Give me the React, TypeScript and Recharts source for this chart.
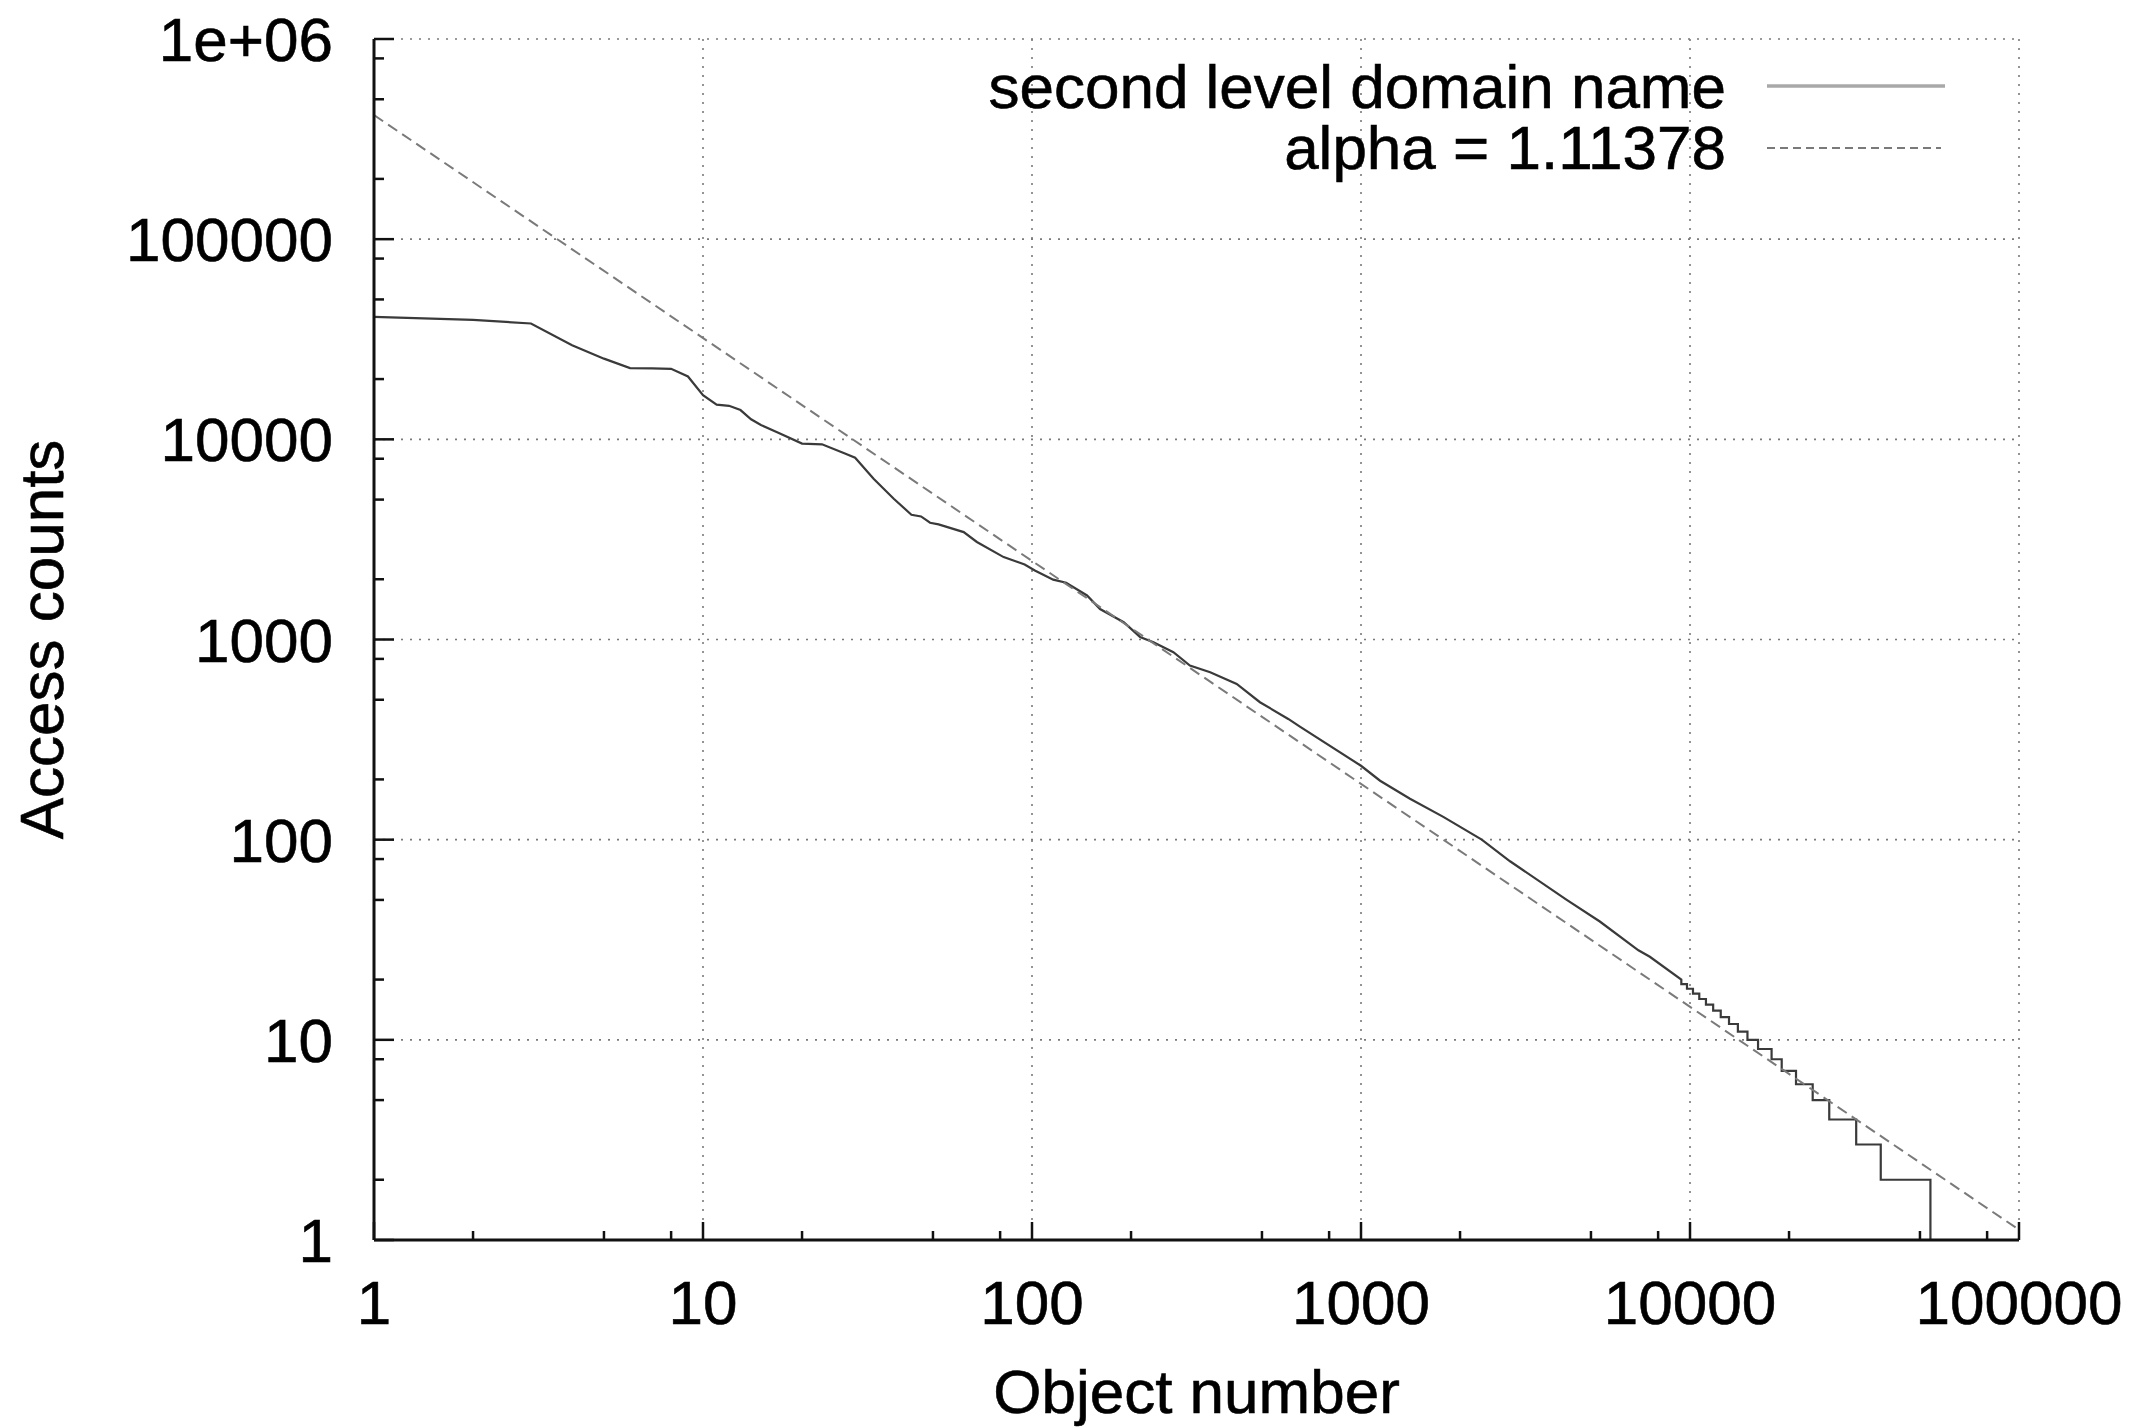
import { CartesianGrid, Line, LineChart, XAxis, YAxis } from 'recharts'

// rank / access-count pairs for the head of the distribution
const headRanks = [
  1, 2, 3, 4, 5, 6, 7, 8, 9, 10, 11, 12, 13, 14, 15, 17, 20, 23, 27, 29, 33, 38, 43, 46, 49, 52, 62, 68, 82, 95, 102,
  116, 127, 147, 161, 190, 213, 234, 269, 302, 348, 419, 493, 601, 652, 1000, 1143, 1409, 1779, 2328, 2838, 4220, 5320,
  6970, 7550,
]
const headCounts = [
  40900, 39500, 37900, 29500, 25300, 22700, 22600, 22500, 20600, 16600, 14900, 14700, 14000, 12600, 11800, 10750, 9520,
  9440, 8500, 8100, 6360, 5050, 4200, 4120, 3830, 3760, 3440, 3070, 2580, 2370, 2210, 1990, 1920, 1660, 1420, 1220, 1030,
  970, 864, 741, 686, 600, 486, 401, 367, 234, 197, 160, 130, 100, 78, 50, 39, 28, 26,
]

// tail: each count level and the last rank that still has it
const stepCounts = [20, 19, 18, 17, 16, 15, 14, 13, 12, 11, 10, 9, 8, 7, 6, 5, 4, 3, 2]
const stepLastRanks = [
  9410, 9790, 10210, 10670, 11180, 11760, 12400, 13140, 13980, 14950, 16100, 17700, 19000, 21000, 23600, 26500, 32000,
  38000, 53800,
]
const finalRank = 53801
const finalCount = 1

// fitted power law, alpha = 1.11378
const fitRanks = [1, 100000]
const fitCounts = [417000, 1.125]

const xMajorTicks = [1, 10, 100, 1000, 10000, 100000]
const xTickLabels = ['1', '10', '100', '1000', '10000', '100000']
const xMinorTicks = [2, 5, 8, 20, 50, 80, 200, 500, 800, 2000, 5000, 8000, 20000, 50000, 80000]
const yMajorTicks = [1, 10, 100, 1000, 10000, 100000, 1000000]
const yTickLabels = ['1', '10', '100', '1000', '10000', '100000', '1e+06']
const yMinorTicks = [
  2, 5, 8, 20, 50, 80, 200, 500, 800, 2000, 5000, 8000, 20000, 50000, 80000, 200000, 500000, 800000,
]

const WIDTH = 2151
const HEIGHT = 1427
const PLOT_LEFT = 374
const PLOT_TOP = 39
const PLOT_RIGHT = 2019
const PLOT_BOTTOM = 1240
const FONT = '"Liberation Sans", Arial, Helvetica, sans-serif'
const FONT_SIZE = 62

// all text gets a hairline stroke so it reads as heavy as the PostScript original
const textStyle = { fontFamily: FONT, fontSize: FONT_SIZE, fill: '#000', stroke: '#000', strokeWidth: 0.6 }

const accessData = [
  ...headRanks.map((rank, i) => ({ rank, count: headCounts[i] })),
  ...stepCounts.flatMap((count, i) => {
    const end = { rank: stepLastRanks[i], count }
    return i === 0 ? [end] : [{ rank: stepLastRanks[i - 1] + 1, count }, end]
  }),
  { rank: finalRank, count: finalCount },
]

const fitData = fitRanks.map((rank, i) => ({ rank, count: fitCounts[i] }))

function BottomTick({ x, y, payload }: any) {
  const idx = xMajorTicks.indexOf(payload.value)
  const major = idx >= 0
  return (
    <g>
      <line x1={x} y1={y} x2={x} y2={y - (major ? 18 : 9)} stroke="#111" strokeWidth={2.5} />
      {major && (
        <text x={x} y={y + 84} textAnchor="middle" style={textStyle}>
          {xTickLabels[idx]}
        </text>
      )}
    </g>
  )
}

function LeftTick({ x, y, payload }: any) {
  const idx = yMajorTicks.indexOf(payload.value)
  const major = idx >= 0
  return (
    <g>
      <line x1={x} y1={y} x2={x + (major ? 20 : 10)} y2={y} stroke="#111" strokeWidth={2.5} />
      {major && (
        <text x={x - 41} y={y + 22} textAnchor="end" style={textStyle}>
          {yTickLabels[idx]}
        </text>
      )}
    </g>
  )
}

export default function App() {
  const centerX = (PLOT_LEFT + PLOT_RIGHT) / 2
  const centerY = (PLOT_TOP + PLOT_BOTTOM) / 2

  return (
    <div style={{ position: 'absolute', left: 0, top: 0, width: WIDTH, height: HEIGHT, background: '#fff' }}>
      <LineChart
        width={WIDTH}
        height={HEIGHT}
        margin={{ top: PLOT_TOP, right: WIDTH - PLOT_RIGHT, bottom: 0, left: 0 }}
      >
        <CartesianGrid
          stroke="#7a7a7a"
          strokeWidth={1.6}
          strokeDasharray="2 7"
          horizontalValues={yMajorTicks}
          verticalValues={xMajorTicks}
        />
        <XAxis
          dataKey="rank"
          type="number"
          scale="log"
          domain={[1, 100000]}
          allowDataOverflow
          ticks={[...xMajorTicks, ...xMinorTicks]}
          interval={0}
          height={HEIGHT - PLOT_BOTTOM}
          tickSize={0}
          tickMargin={0}
          tickLine={false}
          axisLine={{ stroke: '#111', strokeWidth: 3 }}
          tick={(props: any) => <BottomTick {...props} />}
        />
        <YAxis
          dataKey="count"
          type="number"
          scale="log"
          domain={[1, 1000000]}
          allowDataOverflow
          ticks={[...yMajorTicks, ...yMinorTicks]}
          interval={0}
          width={PLOT_LEFT}
          tickSize={0}
          tickMargin={0}
          tickLine={false}
          axisLine={{ stroke: '#111', strokeWidth: 3 }}
          tick={(props: any) => <LeftTick {...props} />}
        />
        <Line
          data={accessData}
          dataKey="count"
          type="linear"
          stroke="#3a3a3a"
          strokeWidth={2.2}
          dot={false}
          isAnimationActive={false}
        />
        <Line
          data={fitData}
          dataKey="count"
          type="linear"
          stroke="#7a7a7a"
          strokeWidth={2}
          strokeDasharray="11 6"
          dot={false}
          isAnimationActive={false}
        />
      </LineChart>

      <svg
        width={WIDTH}
        height={HEIGHT}
        style={{ position: 'absolute', left: 0, top: 0, pointerEvents: 'none' }}
      >
        <text x={1726} y={108} textAnchor="end" style={textStyle}>
          second level domain name
        </text>
        <line x1={1767} y1={86} x2={1945} y2={86} stroke="#a8a8a8" strokeWidth={3.5} />
        <text x={1726} y={169} textAnchor="end" style={textStyle}>
          alpha = 1.11378
        </text>
        <line x1={1767} y1={148} x2={1941} y2={148} stroke="#7a7a7a" strokeWidth={2} strokeDasharray="8 5" />

        <text x={centerX} y={1413} textAnchor="middle" style={textStyle}>
          Object number
        </text>
        <text x={63} y={centerY} textAnchor="middle" style={textStyle} transform={`rotate(-90, 63, ${centerY})`}>
          Access counts
        </text>
      </svg>
    </div>
  )
}
